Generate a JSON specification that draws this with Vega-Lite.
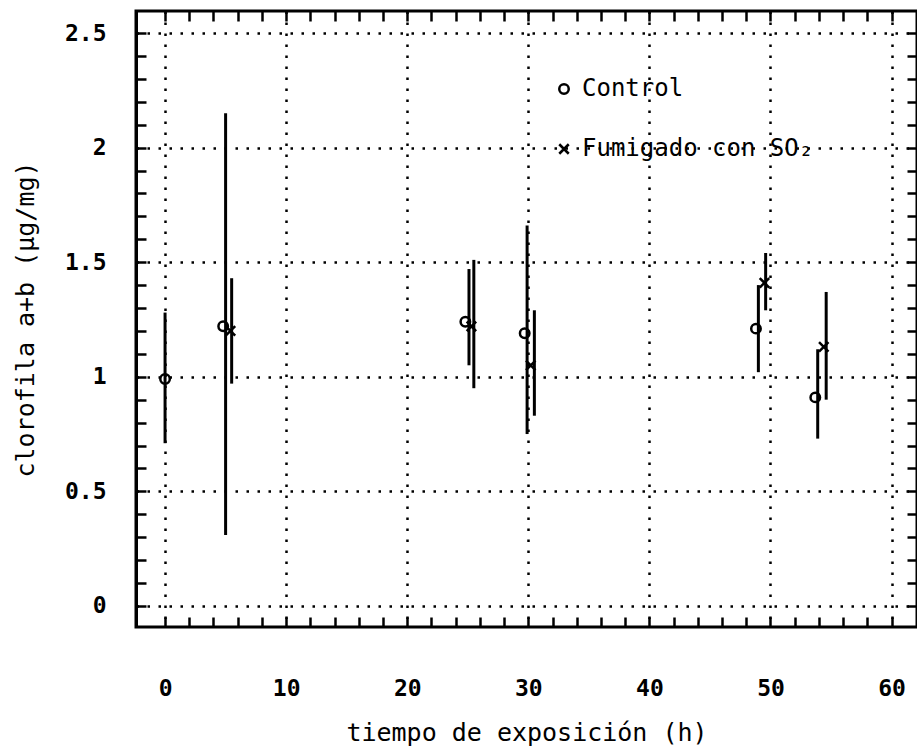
{
  "$schema": "https://vega.github.io/schema/vega-lite/v6.json",
  "width": 781,
  "height": 616,
  "autosize": {"type": "none"},
  "padding": {"left": 136, "top": 11, "right": 0, "bottom": 120},
  "background": "white",
  "config": {
    "view": {"stroke": "black", "strokeWidth": 3},
    "axis": {
      "domainColor": "black", "domainWidth": 3,
      "tickColor": "black", "tickWidth": 2.5, "ticks": true,
      "labelColor": "black", "labelFont": "DejaVu Sans Mono", "labelFontSize": 23, "labelFontWeight": "bold",
      "titleColor": "black", "titleFont": "DejaVu Sans Mono", "titleFontSize": 25, "titleFontWeight": "normal",
      "gridColor": "black", "gridWidth": 2.5, "gridDash": [2.5, 8.5]
    }
  },
  "data": {
    "values": [
      {"serie": "Control", "t": 0, "xe": 0, "y": 0.99, "lo": 0.71, "hi": 1.28},
      {"serie": "Control", "t": 4.8, "xe": 5.0, "y": 1.22, "lo": 0.31, "hi": 2.15},
      {"serie": "Control", "t": 24.8, "xe": 25.1, "y": 1.24, "lo": 1.05, "hi": 1.47},
      {"serie": "Control", "t": 29.7, "xe": 29.9, "y": 1.19, "lo": 0.75, "hi": 1.66},
      {"serie": "Control", "t": 48.8, "xe": 49.0, "y": 1.21, "lo": 1.02, "hi": 1.40},
      {"serie": "Control", "t": 53.7, "xe": 53.9, "y": 0.91, "lo": 0.73, "hi": 1.12},
      {"serie": "Fumigado con SO₂", "t": 5.4, "xe": 5.5, "y": 1.20, "lo": 0.97, "hi": 1.43},
      {"serie": "Fumigado con SO₂", "t": 25.3, "xe": 25.5, "y": 1.22, "lo": 0.95, "hi": 1.51},
      {"serie": "Fumigado con SO₂", "t": 30.2, "xe": 30.5, "y": 1.05, "lo": 0.83, "hi": 1.29},
      {"serie": "Fumigado con SO₂", "t": 49.5, "xe": 49.6, "y": 1.41, "lo": 1.29, "hi": 1.54},
      {"serie": "Fumigado con SO₂", "t": 54.4, "xe": 54.6, "y": 1.13, "lo": 0.90, "hi": 1.37}
    ]
  },
  "resolve": {"axis": {"x": "independent", "y": "independent"}},
  "layer": [
    {
      "mark": {"type": "rule", "color": "black", "strokeWidth": 3},
      "encoding": {
        "x": {
          "field": "xe", "type": "quantitative",
          "scale": {"domain": [-2.4, 62.1], "nice": false, "zero": false},
          "axis": {
            "orient": "bottom",
            "title": "tiempo de exposición (h)",
            "values": [0,2,4,6,8,10,12,14,16,18,20,22,24,26,28,30,32,34,36,38,40,42,44,46,48,50,52,54,56,58,60],
            "labelExpr": "datum.value % 10 === 0 ? format(datum.value, 'd') : ''",
            "offset": -10,
            "domain": false,
            "tickSize": 10,
            "gridOpacity": {"condition": {"test": "datum.value % 10 === 0", "value": 1}, "value": 0},
            "grid": true,
            "labelPadding": 50,
            "titlePadding": 20
          }
        },
        "y": {
          "field": "lo", "type": "quantitative",
          "scale": {"domain": [-0.092, 2.596], "nice": false, "zero": false},
          "axis": {
            "orient": "left",
            "title": "clorofila a+b (µg/mg)",
            "values": [0,0.1,0.2,0.3,0.4,0.5,0.6,0.7,0.8,0.9,1,1.1,1.2,1.3,1.4,1.5,1.6,1.7,1.8,1.9,2,2.1,2.2,2.3,2.4,2.5],
            "labelExpr": "abs(datum.value*2 - round(datum.value*2)) < 0.001 ? format(datum.value, '~g') : ''",
            "tickSize": -10,
            "gridOpacity": {"condition": {"test": "abs(datum.value*2 - round(datum.value*2)) < 0.001", "value": 1}, "value": 0},
            "grid": true,
            "labelPadding": 40,
            "titlePadding": 26
          }
        },
        "y2": {"field": "hi"}
      }
    },
    {
      "mark": {"type": "point", "filled": false, "color": "black", "strokeWidth": 2.5, "size": 90, "opacity": 1},
      "encoding": {
        "x": {
          "field": "t", "type": "quantitative",
          "axis": {
            "orient": "top", "title": null, "labels": false, "grid": false,
            "values": [0,2,4,6,8,10,12,14,16,18,20,22,24,26,28,30,32,34,36,38,40,42,44,46,48,50,52,54,56,58,60],
            "offset": -10,
            "domain": false,
            "tickSize": 10
          }
        },
        "y": {
          "field": "y", "type": "quantitative",
          "axis": {
            "orient": "right", "title": null, "labels": false, "grid": false,
            "values": [0,0.1,0.2,0.3,0.4,0.5,0.6,0.7,0.8,0.9,1,1.1,1.2,1.3,1.4,1.5,1.6,1.7,1.8,1.9,2,2.1,2.2,2.3,2.4,2.5],
            "tickSize": -10
          }
        },
        "shape": {
          "field": "serie", "type": "nominal",
          "scale": {"domain": ["Control", "Fumigado con SO₂"], "range": ["circle", "M-1,-1L1,1M1,-1L-1,1"]},
          "legend": {
            "title": null,
            "orient": "none",
            "legendX": 416,
            "legendY": 66,
            "padding": 0,
            "rowPadding": 36,
            "labelFont": "DejaVu Sans Mono",
            "labelFontSize": 24,
            "labelLimit": 0,
            "labelColor": "black",
            "labelOffset": 6,
            "symbolSize": 90,
            "symbolStrokeWidth": 2.5,
            "symbolStrokeColor": "black",
            "symbolFillColor": "transparent"
          }
        }
      }
    }
  ]
}
